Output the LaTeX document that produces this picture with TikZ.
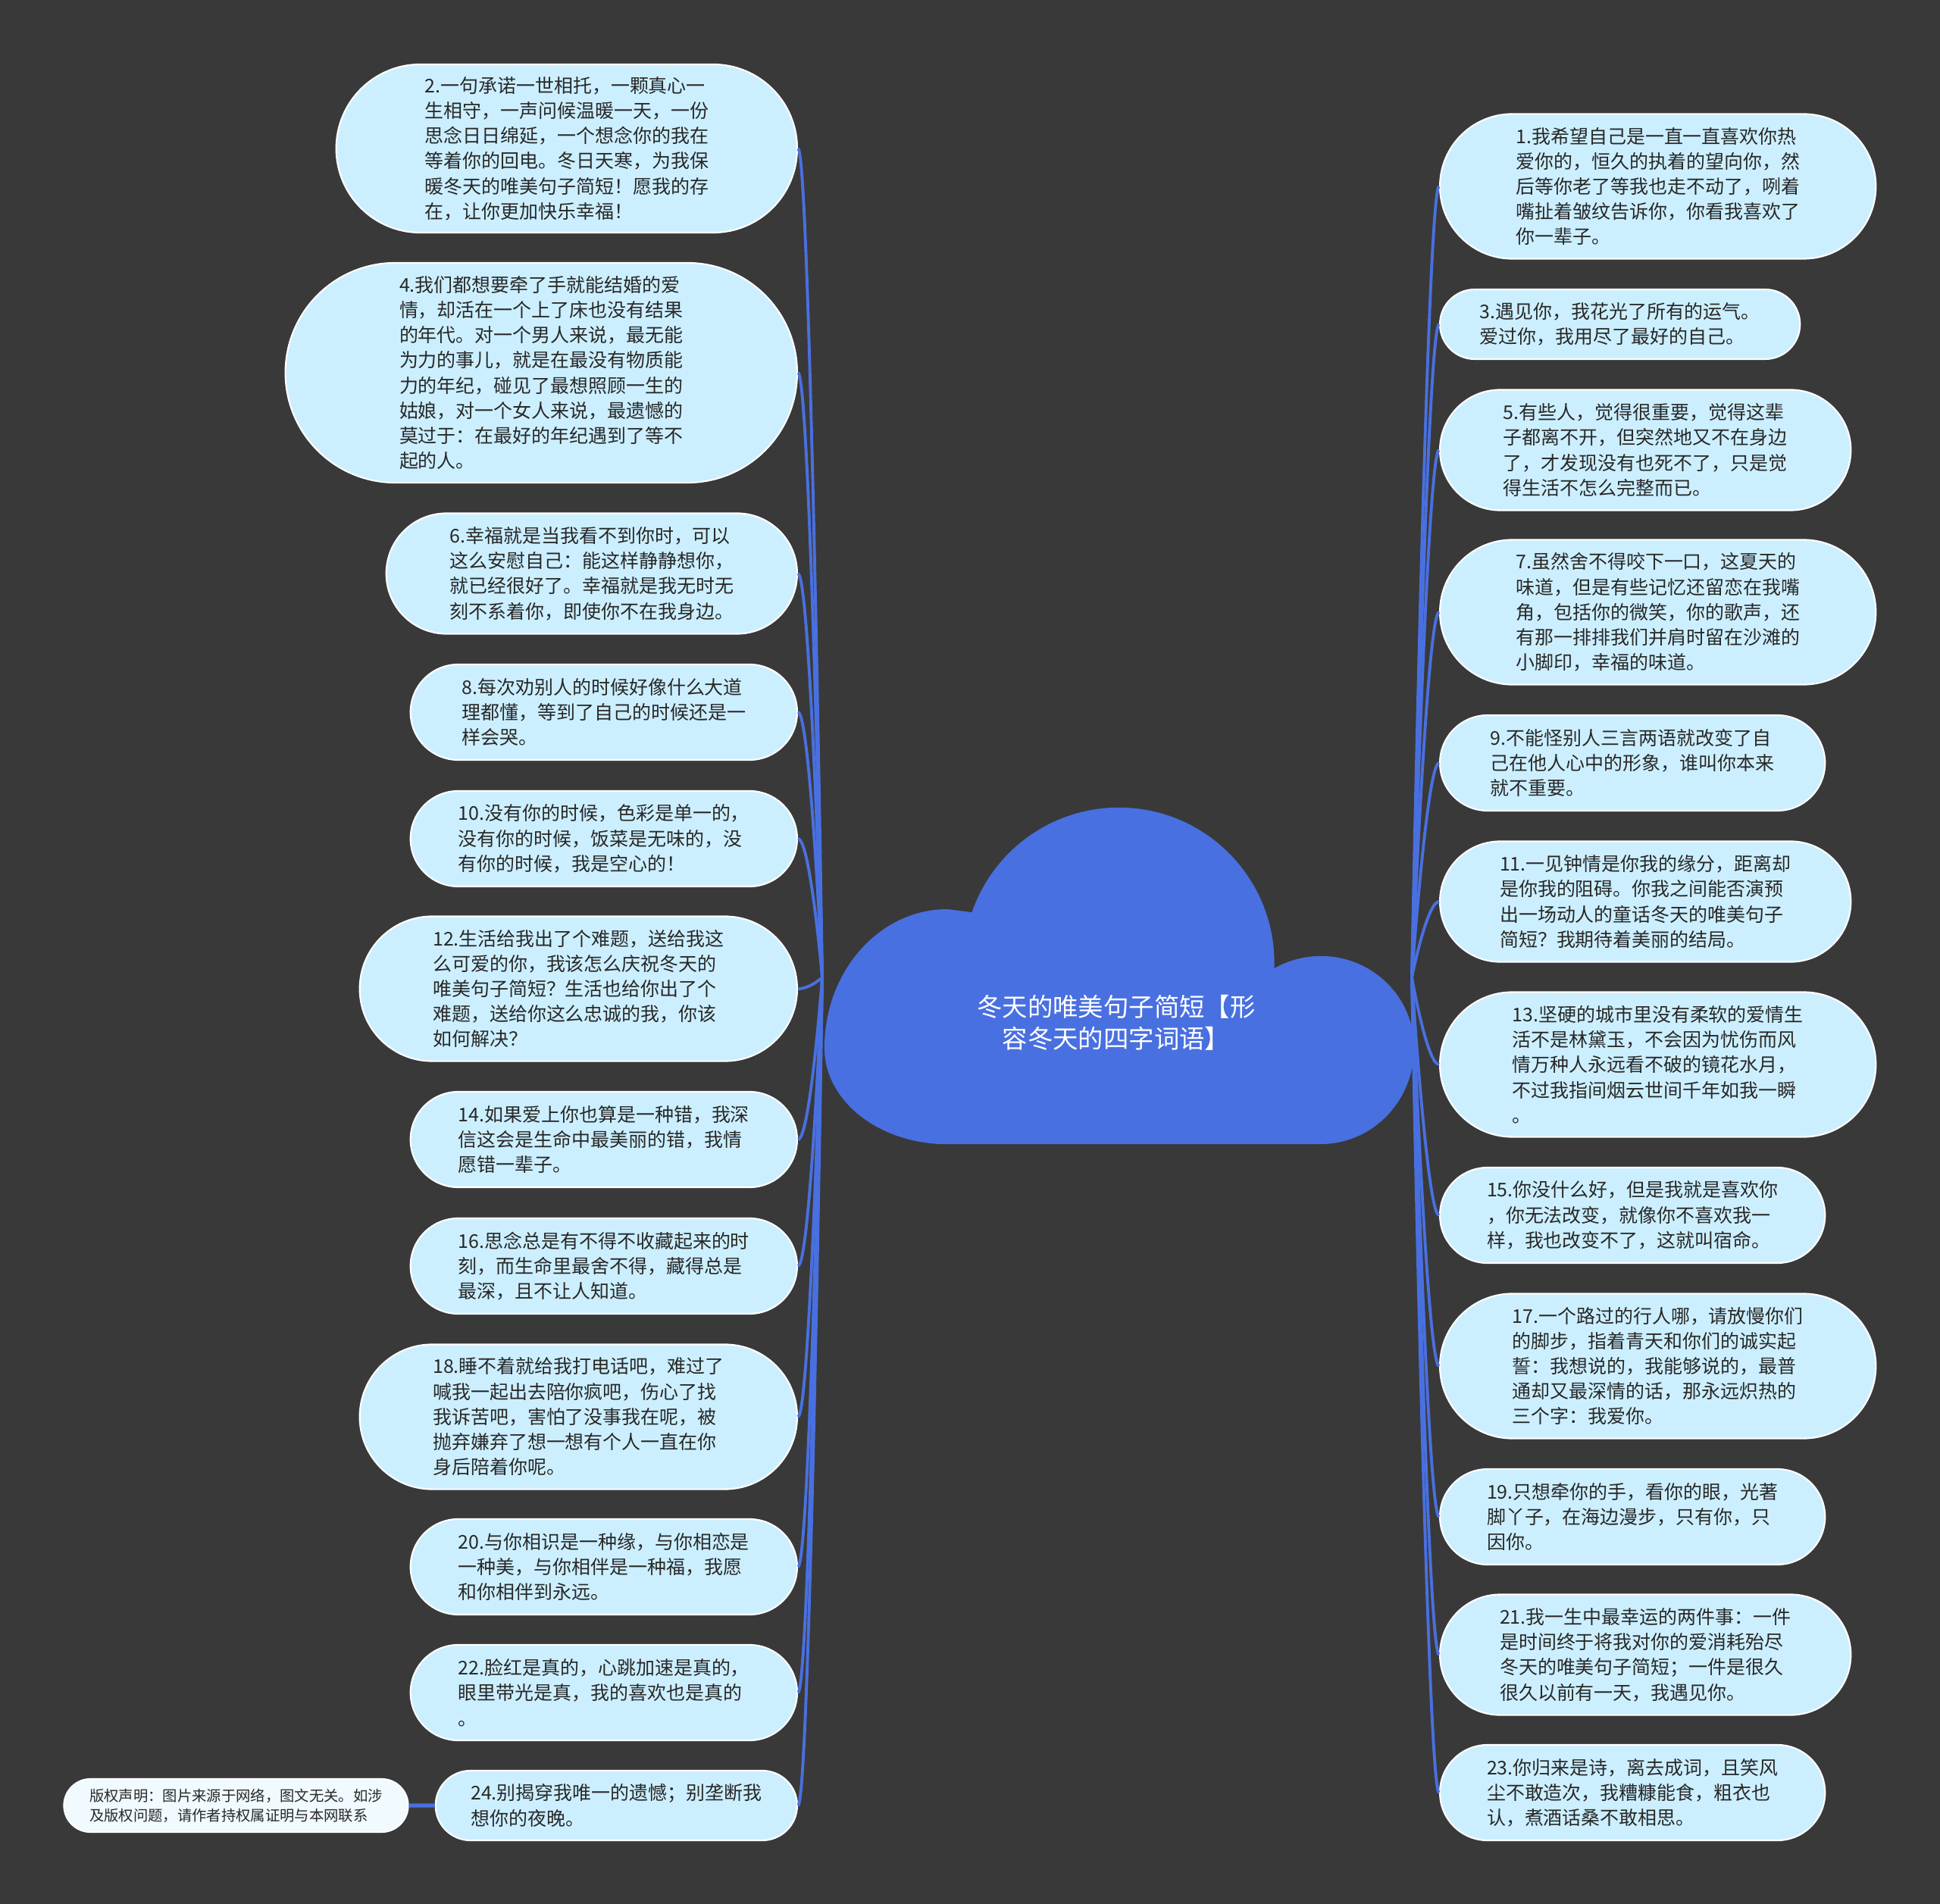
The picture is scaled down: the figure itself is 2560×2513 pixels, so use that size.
\documentclass[tikz,border=0pt]{standalone}
\usepackage{fontspec}
\setmainfont{Noto Sans CJK SC}
\usepackage{tikz}
\usetikzlibrary{positioning,shapes.misc}
\usepackage{xcolor}

\definecolor{bgdark}{RGB}{57,57,57}
\definecolor{cloudblue}{RGB}{73,112,224}
\definecolor{leaffill}{RGB}{204,239,255}
\definecolor{notefill}{RGB}{240,250,255}
\definecolor{leaftext}{RGB}{40,40,40}

\begin{document}
\begin{tikzpicture}[
x=0.01cm,y=-0.01cm,
leaf/.style={rounded rectangle,draw=white,line width=0.6pt,fill=leaffill,text=leaftext,align=left,inner xsep=2pt,inner ysep=2pt,font=\fontsize{7.1}{9.45}\selectfont},
lleaf/.style={leaf,anchor=east},
rleaf/.style={leaf,anchor=west},
rows2/.style={minimum height=0.92cm},
rows3/.style={minimum height=1.26cm},
rows4/.style={minimum height=1.59cm},
rows5/.style={minimum height=1.91cm},
rows6/.style={minimum height=2.22cm},
rows8/.style={minimum height=2.90cm},
link/.style={draw=cloudblue,line width=1.1pt}
]
\fill[bgdark] (0,0) rectangle (2560,2513);

% central cloud
\fill[cloudblue] (1250,1200) arc[start angle=90,end angle=180,x radius=1.62cm,y radius=1.83cm]
  arc[start angle=180,end angle=270,x radius=1.62cm,y radius=1.27cm] -- (1743,1510)
  arc[start angle=270,end angle=360,x radius=1.23cm,y radius=1.27cm]
  arc[start angle=0,end angle=120,x radius=1.23cm,y radius=1.21cm]
  arc[start angle=-2,end angle=161,radius=2.05cm] -- cycle;
\node[text=white,align=center,font=\fontsize{9.5}{12}\selectfont] (topic) at (1473,1350) {冬天的唯美句子简短【形\\容冬天的四字词语】};
\coordinate (lroot) at (1085,1290);
\coordinate (rroot) at (1863,1290);

% left column
\node[lleaf,rows6,minimum width=6.22cm] (n2) at (1053,196) {2.一句承诺一世相托，一颗真心一\\
生相守，一声问候温暖一天，一份\\
思念日日绵延，一个想念你的我在\\
等着你的回电。冬日天寒，为我保\\
暖冬天的唯美句子简短！愿我的存\\
在，让你更加快乐幸福！};
\node[lleaf,rows8,minimum width=6.89cm] (n4) at (1053,492) {4.我们都想要牵了手就能结婚的爱\\
情，却活在一个上了床也没有结果\\
的年代。对一个男人来说，最无能\\
为力的事儿，就是在最没有物质能\\
力的年纪，碰见了最想照顾一生的\\
姑娘，对一个女人来说，最遗憾的\\
莫过于：在最好的年纪遇到了等不\\
起的人。};
\node[lleaf,rows4,minimum width=5.56cm] (n6) at (1053,757) {6.幸福就是当我看不到你时，可以\\
这么安慰自己：能这样静静想你，\\
就已经很好了。幸福就是我无时无\\
刻不系着你，即使你不在我身边。};
\node[lleaf,rows3,minimum width=5.24cm] (n8) at (1053,940) {8.每次劝别人的时候好像什么大道\\
理都懂，等到了自己的时候还是一\\
样会哭。};
\node[lleaf,rows3,minimum width=5.24cm] (n10) at (1053,1107) {10.没有你的时候，色彩是单一的，\\
没有你的时候，饭菜是无味的，没\\
有你的时候，我是空心的！};
\node[lleaf,rows5,minimum width=5.91cm] (n12) at (1053,1305) {12.生活给我出了个难题，送给我这\\
么可爱的你，我该怎么庆祝冬天的\\
唯美句子简短？生活也给你出了个\\
难题，送给你这么忠诚的我，你该\\
如何解决？};
\node[lleaf,rows3,minimum width=5.24cm] (n14) at (1053,1504) {14.如果爱上你也算是一种错，我深\\
信这会是生命中最美丽的错，我情\\
愿错一辈子。};
\node[lleaf,rows3,minimum width=5.24cm] (n16) at (1053,1671) {16.思念总是有不得不收藏起来的时\\
刻，而生命里最舍不得，藏得总是\\
最深，且不让人知道。};
\node[lleaf,rows5,minimum width=5.91cm] (n18) at (1053,1870) {18.睡不着就给我打电话吧，难过了\\
喊我一起出去陪你疯吧，伤心了找\\
我诉苦吧，害怕了没事我在呢，被\\
抛弃嫌弃了想一想有个人一直在你\\
身后陪着你呢。};
\node[lleaf,rows3,minimum width=5.24cm] (n20) at (1053,2068) {20.与你相识是一种缘，与你相恋是\\
一种美，与你相伴是一种福，我愿\\
和你相伴到永远。};
\node[lleaf,rows3,minimum width=5.24cm] (n22) at (1053,2234) {22.脸红是真的，心跳加速是真的，\\
眼里带光是真，我的喜欢也是真的\\
。};
\node[lleaf,rows2,minimum width=4.91cm] (n24) at (1053,2383) {24.别揭穿我唯一的遗憾；别垄断我\\
想你的夜晚。};
\node[leaf,fill=notefill,minimum width=4.68cm,minimum height=0.70cm,font=\fontsize{5.5}{7.4}\selectfont,left=0.34cm of n24] (note) {版权声明：图片来源于网络，图文无关。如涉\\
及版权问题，请作者持权属证明与本网联系};

% right column
\node[rleaf,rows5,minimum width=5.89cm] (n1) at (1899,246) {1.我希望自己是一直一直喜欢你热\\
爱你的，恒久的执着的望向你，然\\
后等你老了等我也走不动了，咧着\\
嘴扯着皱纹告诉你，你看我喜欢了\\
你一辈子。};
\node[rleaf,rows2,minimum width=4.89cm] (n3) at (1899,428) {3.遇见你，我花光了所有的运气。\\
爱过你，我用尽了最好的自己。};
\node[rleaf,rows4,minimum width=5.56cm] (n5) at (1899,594) {5.有些人，觉得很重要，觉得这辈\\
子都离不开，但突然地又不在身边\\
了，才发现没有也死不了，只是觉\\
得生活不怎么完整而已。};
\node[rleaf,rows5,minimum width=5.89cm] (n7) at (1899,808) {7.虽然舍不得咬下一口，这夏天的\\
味道，但是有些记忆还留恋在我嘴\\
角，包括你的微笑，你的歌声，还\\
有那一排排我们并肩时留在沙滩的\\
小脚印，幸福的味道。};
\node[rleaf,rows3,minimum width=5.22cm] (n9) at (1899,1007) {9.不能怪别人三言两语就改变了自\\
己在他人心中的形象，谁叫你本来\\
就不重要。};
\node[rleaf,rows4,minimum width=5.56cm] (n11) at (1899,1190) {11.一见钟情是你我的缘分，距离却\\
是你我的阻碍。你我之间能否演预\\
出一场动人的童话冬天的唯美句子\\
简短？我期待着美丽的结局。};
\node[rleaf,rows5,minimum width=5.89cm] (n13) at (1899,1405) {13.坚硬的城市里没有柔软的爱情生\\
活不是林黛玉，不会因为忧伤而风\\
情万种人永远看不破的镜花水月，\\
不过我指间烟云世间千年如我一瞬\\
。};
\node[rleaf,rows3,minimum width=5.22cm] (n15) at (1899,1604) {15.你没什么好，但是我就是喜欢你\\
，你无法改变，就像你不喜欢我一\\
样，我也改变不了，这就叫宿命。};
\node[rleaf,rows5,minimum width=5.89cm] (n17) at (1899,1803) {17.一个路过的行人哪，请放慢你们\\
的脚步，指着青天和你们的诚实起\\
誓：我想说的，我能够说的，最普\\
通却又最深情的话，那永远炽热的\\
三个字：我爱你。};
\node[rleaf,rows3,minimum width=5.22cm] (n19) at (1899,2002) {19.只想牵你的手，看你的眼，光著\\
脚丫子，在海边漫步，只有你，只\\
因你。};
\node[rleaf,rows4,minimum width=5.56cm] (n21) at (1899,2184) {21.我一生中最幸运的两件事：一件\\
是时间终于将我对你的爱消耗殆尽\\
冬天的唯美句子简短；一件是很久\\
很久以前有一天，我遇见你。};
\node[rleaf,rows3,minimum width=5.22cm] (n23) at (1899,2366) {23.你归来是诗，离去成词，且笑风\\
尘不敢造次，我糟糠能食，粗衣也\\
认，煮酒话桑不敢相思。};

% connectors
\foreach \k in {2,4,...,24}
  \draw[link] (lroot) .. controls (lroot) and ([xshift=0.16cm]n\k.east) .. (n\k.east);
\foreach \k in {1,3,...,23}
  \draw[link] (rroot) .. controls (rroot) and ([xshift=-0.16cm]n\k.west) .. (n\k.west);
\draw[link,line width=1.5pt] (note) -- (n24);
\end{tikzpicture}
\end{document}
